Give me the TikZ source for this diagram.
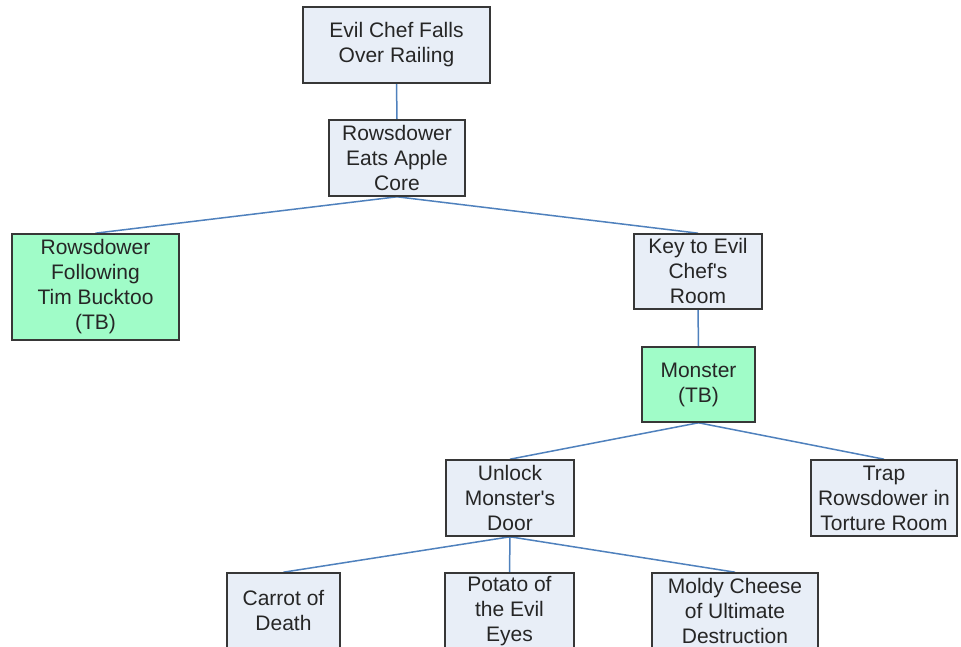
\documentclass[tikz,border=0pt]{standalone}
\usepackage{fontspec}
\setmainfont{Liberation Sans}
\usetikzlibrary{shadows,backgrounds}
\definecolor{boxfill}{RGB}{232,238,247}
\definecolor{tbfill}{RGB}{160,252,200}
\definecolor{linkblue}{RGB}{79,129,189}
\definecolor{boxline}{RGB}{55,55,55}
\tikzset{
  card/.style={draw=boxline, line width=1.6pt, fill=boxfill, inner sep=0pt,
    align=center, text=black!85, font=\fontsize{21}{25}\selectfont,
    drop shadow={shadow xshift=1.3pt, shadow yshift=-1.3pt, fill=black!45, opacity=0.8}},
  tbcard/.style={card, fill=tbfill},
  link/.style={draw=linkblue, line width=1.5pt}
}
\begin{document}
\begin{tikzpicture}[x=1pt, y=1pt]
  \useasboundingbox (0,0) rectangle (961,647);
  \clip (0,0) rectangle (961,647);

  % story nodes (y measured upward from the bottom edge)
  \node[card, minimum width=187pt, minimum height=76pt] (fall) at (396.5,602)
    {Evil Chef Falls\\Over Railing};
  \node[card, minimum width=136pt, minimum height=76pt] (apple) at (397,489)
    {Rowsdower\\Eats Apple\\Core};
  \node[tbcard, minimum width=167pt, minimum height=106pt] (follow) at (95.5,360)
    {Rowsdower\\Following\\Tim Bucktoo\\(TB)};
  \node[card, minimum width=128pt, minimum height=75pt] (key) at (698,375.5)
    {Key to Evil\\Chef\textquotesingle s\\Room};
  \node[tbcard, minimum width=113pt, minimum height=75pt] (monster) at (698.5,262.5)
    {Monster\\(TB)};
  \node[card, minimum width=128pt, minimum height=76pt] (unlock) at (510,149)
    {Unlock\\Monster\textquotesingle s\\Door};
  \node[card, minimum width=146pt, minimum height=76pt] (trap) at (884,149)
    {Trap\\Rowsdower in\\Torture Room};
  \node[card, minimum width=113pt, minimum height=76pt] (carrot) at (283.5,36)
    {Carrot of\\Death};
  \node[card, minimum width=129pt, minimum height=76pt] (potato) at (509.5,36)
    {Potato of\\the Evil\\Eyes};
  \node[card, minimum width=166pt, minimum height=76pt] (cheese) at (735,36)
    {Moldy Cheese\\of Ultimate\\Destruction};

  % white page and connectors, behind the boxes
  \begin{scope}[on background layer]
    \fill[white] (0,0) rectangle (961,647);
    \draw[link] (fall.south) -- (apple.north);
    \draw[link] (apple.south) -- (follow.north);
    \draw[link] (apple.south) -- (key.north);
    \draw[link] (key.south) -- (monster.north);
    \draw[link] (monster.south) -- (unlock.north);
    \draw[link] (monster.south) -- (trap.north);
    \draw[link] (unlock.south) -- (carrot.north);
    \draw[link] (unlock.south) -- (potato.north);
    \draw[link] (unlock.south) -- (cheese.north);
  \end{scope}
\end{tikzpicture}
\end{document}
